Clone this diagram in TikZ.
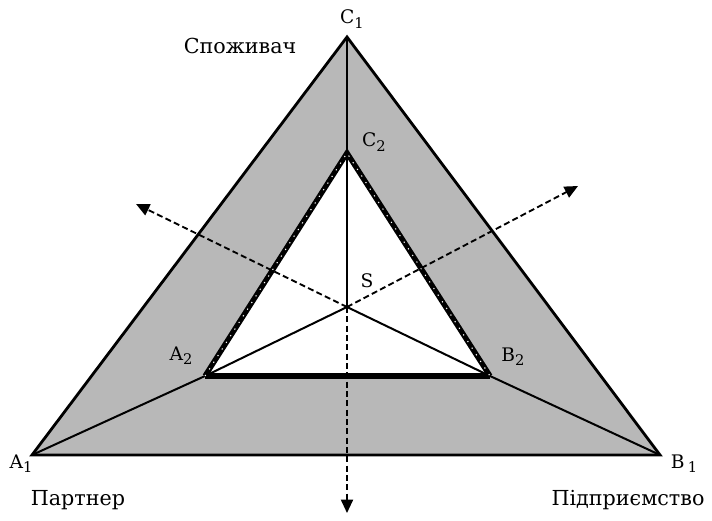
\documentclass[tikz,border=0pt]{standalone}
\usepackage{fontspec}
\setmainfont{DejaVu Serif}
\usetikzlibrary{arrows.meta}
\definecolor{band}{RGB}{184,184,184}
\tikzset{
  lbl/.style={font=\fontsize{14}{16}\selectfont, inner sep=1pt},
  captext/.style={font=\fontsize{15.5}{18}\selectfont, inner sep=1pt},
  outeredge/.style={line width=2.1pt, line join=miter},
  thinline/.style={line width=1.5pt},
  dasharrow/.style={line width=1.4pt, dash pattern=on 4.5pt off 2.5pt, -{Triangle[length=10pt,width=9pt]}}
}
\newcommand{\mysub}[1]{\raisebox{-0.45ex}{\fontsize{11}{12}\selectfont #1}}
\begin{document}
\begin{tikzpicture}[x=0.75pt,y=-0.75pt]
\useasboundingbox (0,0) rectangle (712,520);
\coordinate (C1) at (347,37);
\coordinate (A1) at (32,455);
\coordinate (B1) at (660,455);
\coordinate (C2) at (347,153);
\coordinate (A2) at (205,376);
\coordinate (B2) at (490,376);
\coordinate (S) at (347,307);
\coordinate (UL) at (136,204);
\coordinate (UR) at (578,186);
\coordinate (DN) at (347,513);
% band
\fill[band, even odd rule] (A1) -- (B1) -- (C1) -- cycle (A2) -- (B2) -- (C2) -- cycle;
% outer triangle
\draw[outeredge] (A1) -- (B1) -- (C1) -- cycle;
% inner connections
\draw[thinline] (C1) -- (S);
\draw[thinline] (A1) -- (A2) -- (S) -- (B2) -- (B1);
% inner triangle
\draw[line width=4.6pt] (A2) -- (B2);
\draw[line width=4pt, line join=miter] (A2) -- (C2) -- (B2);
\draw[white, line width=0.8pt, dash pattern=on 0.9pt off 5pt] (A2) -- (C2) -- (B2);
% dashed arrows
\draw[dasharrow] (S) -- (UL);
\draw[dasharrow] (S) -- (UR);
\draw[dasharrow] (S) -- (DN);
% labels
\node[lbl] (lC1) at (352,19) {C\mysub{1}};
\node[lbl] (lC2) at (374,142) {C\mysub{2}};
\node[lbl] (lS) at (367,281) {S};
\node[lbl] (lA2) at (181,356) {A\mysub{2}};
\node[lbl] (lB2) at (513,357) {B\mysub{2}};
\node[lbl] (lA1) at (21,464) {A\mysub{1}};
\node[lbl] (lB1) at (684,464) {B\,\mysub{1}};
\node[captext] (t1) at (240,46) {Споживач};
\node[captext] (t2) at (78,500) {Партнер};
\node[captext] (t3) at (628,500) {Підприємство};
\end{tikzpicture}
\end{document}
